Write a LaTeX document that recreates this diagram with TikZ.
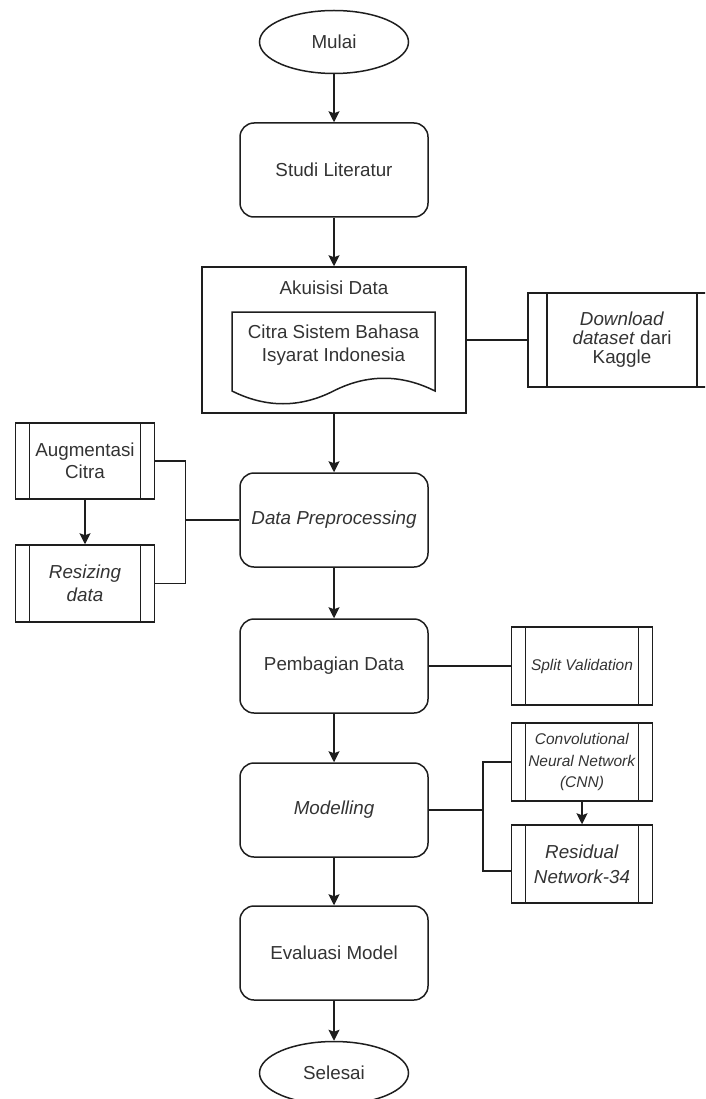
\documentclass[tikz,border=0pt]{standalone}
\usepackage{fontspec}
\setmainfont{Liberation Sans}
\usetikzlibrary{shapes.geometric, arrows.meta, positioning, calc}
\definecolor{txtgray}{RGB}{51,51,51}
\definecolor{linegray}{RGB}{30,30,30}

\begin{document}
\begin{tikzpicture}[
      x=1pt, y=-1pt,
      font=\fontsize{18.8}{22.5}\selectfont,
      terminal/.style={
        draw=linegray,
        ellipse,
        minimum width=149pt,
        minimum height=63pt,
        inner sep=0pt,
        text=txtgray,
        line width=1.5pt
      },
      stepbox/.style={
        draw=linegray,
        rounded corners=14pt,
        minimum width=188pt,
        minimum height=94pt,
        align=center,
        text=txtgray,
        line width=1.5pt
      },
      procbox/.style={
        draw=linegray,
        rectangle,
        align=center,
        inner sep=1pt,
        text=txtgray,
        line width=1.5pt,
        path picture={
          \draw[linegray, line width=1.5pt]
            ($(path picture bounding box.north west)!0.1!(path picture bounding box.north east)$) --
            ($(path picture bounding box.south west)!0.1!(path picture bounding box.south east)$);
          \draw[linegray, line width=1.5pt]
            ($(path picture bounding box.north west)!0.9!(path picture bounding box.north east)$) --
            ($(path picture bounding box.south west)!0.9!(path picture bounding box.south east)$);
        }
      },
      flow/.style={-{Stealth[length=11pt, width=11pt, inset=2pt]}, draw=linegray, line width=1.6pt},
      link/.style={draw=linegray, line width=1.5pt}
    ]

    \useasboundingbox (0,0) rectangle (705,1099);
    \clip (0,0) rectangle (705,1099);

    % Main flow
    \node[terminal] (mulai) at (334,42) {Mulai};
    \node[stepbox] (studi) at (334,170) {Studi Literatur};
    \node[draw=linegray, line width=1.5pt, minimum width=264pt, minimum height=146pt] (akuisisi) at (334,340) {};
    \node[text=txtgray] (akutitle) at (334,288) {Akuisisi Data};
    \node[text=txtgray, align=center] (citra) at (333.5,345) {Citra Sistem Bahasa\\Isyarat Indonesia};
    \node[stepbox] (prep) at (334,520) {\textit{Data Preprocessing}};
    \node[stepbox] (bagi) at (334,666) {Pembagian Data};
    \node[stepbox] (model) at (334,810) {\textit{Modelling}};
    \node[stepbox] (evaluasi) at (334,953) {Evaluasi Model};
    \node[terminal] (selesai) at (334,1073) {Selesai};

    % Document outline of the dataset
    \draw[link] (232,312) -- (435,312) -- (435,391)
      .. controls (401,374) and (367,374) .. (333.5,391)
      .. controls (300,408) and (266,408) .. (232,391) -- cycle;

    % Side processes
    \node[procbox, minimum width=188pt, minimum height=94pt, font=\fontsize{18.8}{19}\selectfont] (download) at (622,340) {\textit{Download}\\\textit{dataset} dari\\Kaggle};
    \node[procbox, minimum width=139pt, minimum height=76pt] (augment) at (85,461) {Augmentasi\\Citra};
    \node[procbox, minimum width=139pt, minimum height=77pt] (resize) at (85,583.5) {\textit{Resizing}\\\textit{data}};
    \node[procbox, minimum width=141pt, minimum height=78pt, font=\fontsize{15.5}{21.5}\selectfont] (split) at (582,666) {\textit{Split Validation}};
    \node[procbox, minimum width=141pt, minimum height=78pt, font=\fontsize{15.5}{21.5}\selectfont] (cnn) at (582,762) {\textit{Convolutional}\\\textit{Neural Network}\\\textit{(CNN)}};
    \node[procbox, minimum width=141pt, minimum height=78pt, font=\fontsize{18.8}{25}\selectfont] (resnet) at (582,864) {\textit{Residual}\\\textit{Network-34}};

    % Main arrows
    \draw[flow] (mulai) -- (studi);
    \draw[flow] (studi) -- (akuisisi);
    \draw[flow] (akuisisi) -- (prep);
    \draw[flow] (prep) -- (bagi);
    \draw[flow] (bagi) -- (model);
    \draw[flow] (model) -- (evaluasi);
    \draw[flow] (evaluasi) -- (selesai);

    % Side links
    \draw[link] (akuisisi) -- (download);
    \draw[flow] (augment) -- (resize);
    \draw[link] (prep.west) -- ++(-54,0) coordinate (joinL);
    \draw[link] (augment.east) -| (joinL);
    \draw[link] (resize.east) -| (joinL);
    \draw[link] (bagi) -- (split);
    \draw[link] (model.east) -- ++(54,0) coordinate (joinR);
    \draw[link] (cnn.west) -| (joinR);
    \draw[link] ($(resnet.west)+(0,7)$) -| (joinR);
    \draw[flow] (cnn) -- (resnet);

  \end{tikzpicture}
\end{document}
